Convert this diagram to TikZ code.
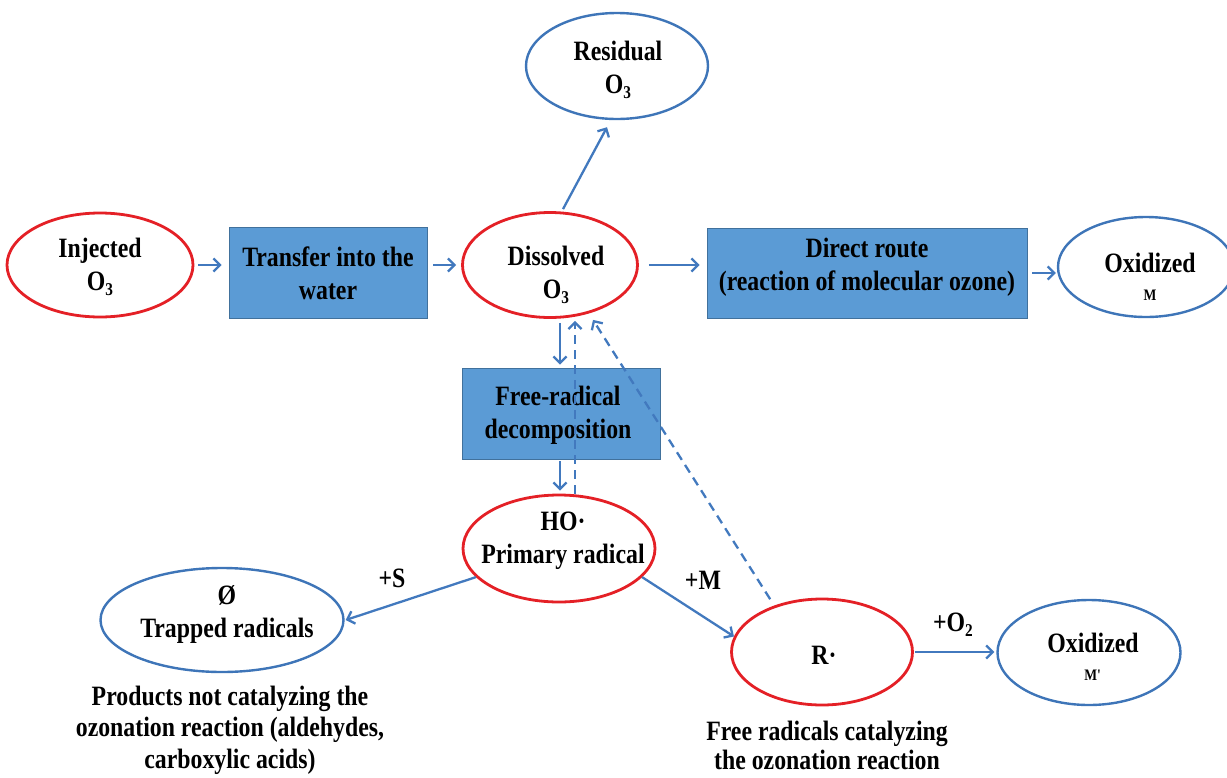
\documentclass[tikz,border=0pt]{standalone}
\usepackage{fontspec}
\setmainfont{Liberation Serif}[FakeStretch=0.85]
\usetikzlibrary{shapes.geometric,arrows.meta,calc}
\definecolor{redE}{RGB}{228,32,38}
\definecolor{blueE}{RGB}{62,117,184}
\definecolor{boxF}{RGB}{91,155,213}
\definecolor{boxD}{RGB}{65,113,156}
\definecolor{arrC}{RGB}{66,121,190}
\newcommand\lsub[1]{\raisebox{-5pt}{\fontsize{18}{18}\selectfont #1}}
\begin{document}
\begin{tikzpicture}[x=1pt,y=-1pt,
  redell/.style={ellipse, draw=redE, line width=2.8pt, fill=white, inner sep=0pt},
  blueell/.style={ellipse, draw=blueE, line width=2.4pt, fill=white, inner sep=0pt},
  procbox/.style={rectangle, draw=boxD, line width=0.8pt, fill=boxF, inner sep=0pt},
  txt/.style={align=center, font=\fontsize{28}{33}\selectfont\bfseries, inner sep=0pt},
  smalltxt/.style={font=\fontsize{16}{16}\selectfont\bfseries, inner sep=0pt},
  arr/.style={draw=arrC, line width=2.3pt, -{Straight Barb[length=6.5pt,width=13pt]}},
  dsh/.style={arr, dash pattern=on 9pt off 6pt},
]
\useasboundingbox (0,0) rectangle (1227,777);

% top row
\node[redell, minimum width=186, minimum height=104] (inj) at (100,265) {};
\node[txt] (injT) at (100,267) {Injected\\O\lsub{3}};
\node[procbox, minimum width=198, minimum height=91] (trans) at (328,272.5) {};
\node[txt] (transT) at (328,273) {Transfer into the\\water};
\node[redell, minimum width=175, minimum height=105] (diss) at (550,265) {};
\node[txt] (dissT) at (556,275) {Dissolved\\O\lsub{3}};
\node[procbox, minimum width=320, minimum height=90] (direct) at (867,273) {};
\node[txt] (directT) at (867,267) {Direct route\\(reaction of molecular ozone)};
\node[blueell, minimum width=176, minimum height=100] (oxm) at (1146,267) {};
\node[txt] (oxmT) at (1150,263) {Oxidized};
\node[smalltxt] (oxmM) at (1150,295) {M};

% residual
\node[blueell, minimum width=182, minimum height=106] (resid) at (617,66) {};
\node[txt] (residT) at (618,70) {Residual\\O\lsub{3}};

% radical chain
\node[procbox, minimum width=198, minimum height=91] (free) at (561,413.5) {};
\node[txt] (freeT) at (558,415) {Free-radical\\decomposition};
\node[redell, minimum width=192, minimum height=107] (ho) at (559,548.5) {};
\node[txt] (hoT) at (563,541) {HO·\\Primary radical};
\node[blueell, minimum width=243, minimum height=104] (trap) at (222,620) {};
\node[txt] (trapT) at (227,614) {Ø\\Trapped radicals};
\node[txt, font=\fontsize{28}{31.5}\selectfont\bfseries] (note1) at (230,730) {Products not catalyzing the\\ozonation reaction (aldehydes,\\carboxylic acids)};
\node[redell, minimum width=181, minimum height=106] (r) at (822,652) {};
\node[txt] (rT) at (824,655) {R·};
\node[blueell, minimum width=183, minimum height=105] (oxm2) at (1089,652.5) {};
\node[txt] (oxm2T) at (1093,643) {Oxidized};
\node[smalltxt] (oxm2M) at (1093,675) {M\textquotesingle};
\node[txt, font=\fontsize{28}{29}\selectfont\bfseries] (note2) at (827,745) {Free radicals catalyzing\\the ozonation reaction};

% labels
\node[txt] (lS) at (392,578) {+S};
\node[txt] (lM) at (703,580) {+M};
\node[txt] (lO) at (953,625) {+O\lsub{2}};

% connectors
\draw[arr, shorten <=4pt, shorten >=7pt] (inj.east) -- (inj.east -| trans.west);
\draw[arr, shorten <=6pt, shorten >=5pt] (trans.east |- diss.west) -- (diss.west);
\draw[arr, shorten <=10pt, shorten >=7pt] (diss.east) -- (diss.east -| direct.west);
\draw[arr, shorten <=5pt, shorten >=1pt] (direct.east) -- (direct.east -| oxm.west);
\draw[arr] ($(diss.north)+(13,-2)$) -- ($(resid.south)+(-10,7)$);
\draw[arr] ($(diss.south)+(10,4)$) -- ($(free.north)+(-1,-3)$);
\draw[arr] ($(free.south)+(-1,2)$) -- ($(ho.north)+(1,-3)$);
\draw[dsh] ($(ho.north)+(16,0)$) -- ($(diss.south)+(25,2)$);
\draw[dsh] ($(r.135)+(-5,-6)$) -- ($(diss.south)+(43,1)$);
\draw[arr] (ho.199) -- ($(trap.east)+(1,0)$);
\draw[arr] (ho.-19) -- (r.170);
\draw[arr, shorten <=1pt, shorten >=2pt] (r.east) -- (r.east -| oxm2.west);
\end{tikzpicture}
\end{document}
